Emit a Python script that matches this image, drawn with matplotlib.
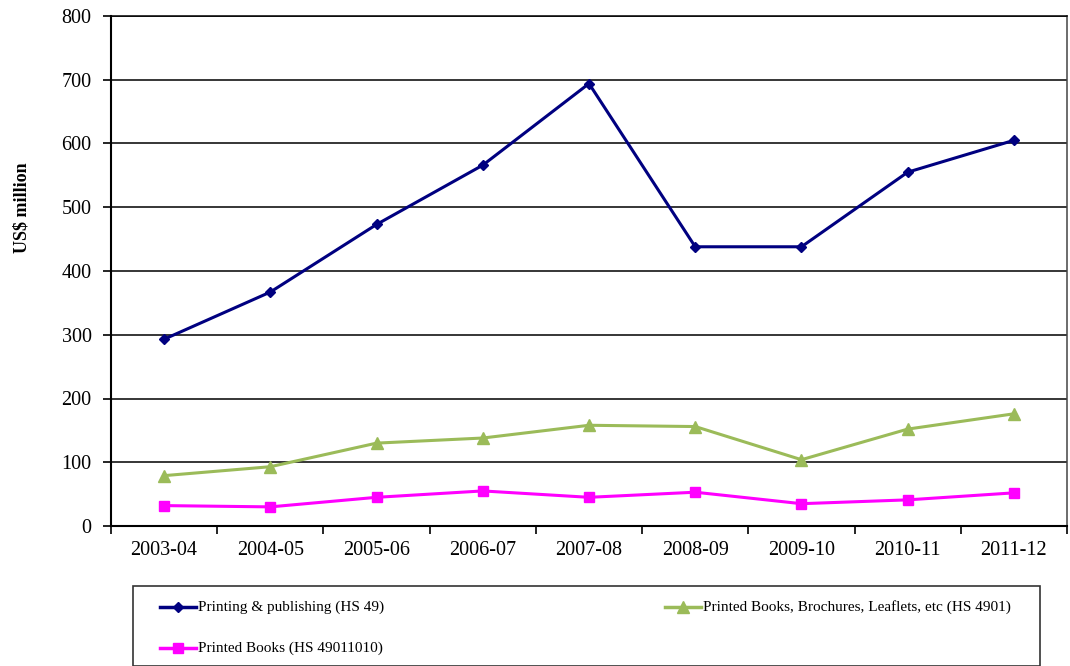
import matplotlib
matplotlib.use("Agg")
import matplotlib.pyplot as plt
from matplotlib.lines import Line2D
from matplotlib.patches import Rectangle

categories = ["2003-04", "2004-05", "2005-06", "2006-07", "2007-08",
              "2008-09", "2009-10", "2010-11", "2011-12"]
printing = [293, 367, 473, 566, 694, 438, 438, 555, 605]
books_brochures = [79, 93, 130, 138, 158, 156, 104, 152, 176]
printed_books = [32, 30, 45, 55, 45, 53, 35, 41, 52]
yticks = [0, 100, 200, 300, 400, 500, 600, 700, 800]

series = [
    ("Printing & publishing (HS 49)", printing, "#000080", "D", 5),
    ("Printed Books, Brochures, Leaflets, etc (HS 4901)", books_brochures, "#9BBB59", "^", 9),
    ("Printed Books (HS 49011010)", printed_books, "#FF00FF", "s", 7.5),
]

plt.rcParams['font.family'] = ['Liberation Serif', 'DejaVu Serif']

W, H = 1070, 666
fig = plt.figure(figsize=(W / 100, H / 100), dpi=100)
ax = fig.add_axes([111 / W, 1 - 526 / H, (1067 - 111) / W, (526 - 16) / H])

x = list(range(len(categories)))
for name, vals, col, mk, ms in series:
    ax.plot(x, vals, color=col, marker=mk, markersize=ms, linewidth=2.2,
            markeredgecolor=col, markerfacecolor=col, zorder=3)

ax.set_xlim(-0.5, len(categories) - 0.5)
ax.set_ylim(0, 800)
ax.set_yticks(yticks)
ax.set_yticklabels([str(v) for v in yticks], fontsize=14.5)
ax.set_xticks(x)
ax.set_xticklabels(categories, fontsize=14.5)
ax.set_xticks([i - 0.5 for i in range(len(categories) + 1)], minor=True)
ax.tick_params(axis='x', which='major', length=0, pad=11)
ax.tick_params(axis='x', which='minor', length=6, width=1.2, direction='out')
ax.tick_params(axis='y', which='major', length=6, width=1.2, direction='out', pad=8)
ax.yaxis.grid(True, color='black', linewidth=1.1)
ax.set_axisbelow(True)
for s in ['left', 'bottom']:
    ax.spines[s].set_linewidth(1.5)
ax.spines['top'].set_linewidth(1.1)
ax.spines['right'].set_linewidth(1.1)
ax.spines['right'].set_color('#444444')

fig.text(22 / W, 1 - 208 / H, "US$ million", rotation=90, fontsize=13,
         fontweight='bold', ha='center', va='center')

# legend box
fig.patches.append(Rectangle((133 / W, 0), (1040 - 133) / W, 1 - 586 / H,
                             transform=fig.transFigure, fill=False,
                             edgecolor='#333333', linewidth=1.2))
pos = [(160, 607), (665, 607), (160, 648)]
for (name, vals, col, mk, ms), (px, py) in zip(series, pos):
    yy = 1 - py / H
    fig.add_artist(Line2D([px / W, (px + 36) / W], [yy, yy], color=col,
                          linewidth=2.5, transform=fig.transFigure))
    fig.add_artist(Line2D([(px + 18) / W], [yy], color=col, marker=mk,
                          markersize=ms, transform=fig.transFigure))
    fig.text((px + 38) / W, yy, name, fontsize=11, ha='left', va='center')

fig.savefig("out.png", dpi=100)
